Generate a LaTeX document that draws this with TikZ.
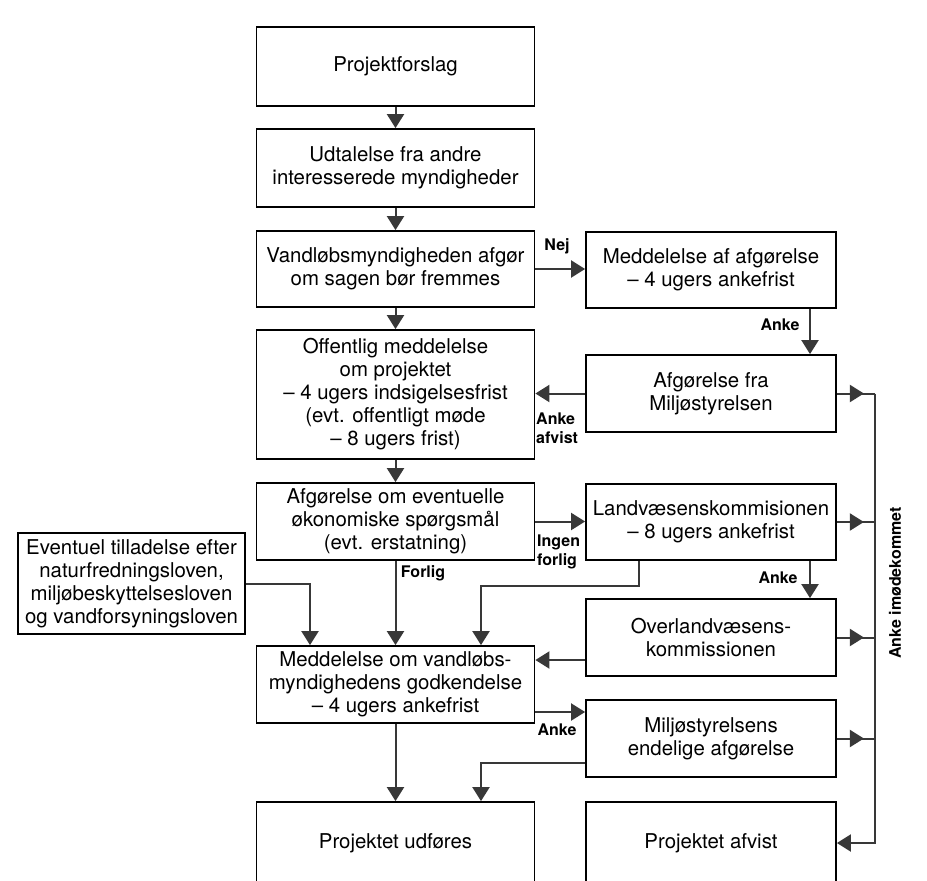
\documentclass[tikz,border=0pt]{standalone}
\usepackage{fontspec}
\setmainfont{TeX Gyre Heros}
\usetikzlibrary{arrows.meta}
\newcommand\boxfont{\fontsize{20.4}{23}\selectfont}
\newcommand\labfont{\fontsize{16}{19.5}\selectfont\bfseries}
\tikzset{
  box/.style={draw=black, line width=1.8pt, fill=white, align=center, inner sep=0pt, font=\boxfont},
  lbox/.style={box, minimum width=278pt},
  rbox/.style={box, minimum width=250pt},
  conn/.style={draw=black!78, line width=2pt},
  arr/.style={conn, -{Triangle[width=17pt,length=14pt]}},
  lab/.style={font=\labfont, inner sep=0pt, align=left},
}
\begin{document}
\begin{tikzpicture}[x=1pt,y=-1pt]
\useasboundingbox[fill=white] (0,0) rectangle (927,881);

% left column
\node[lbox, minimum height=79pt] (P1) at (395.5,66.5) {Projektforslag};
\node[lbox, minimum height=78pt] (P2) at (395.5,168) {Udtalelse fra andre\\interesserede myndigheder};
\node[lbox, minimum height=76pt] (P3) at (395.5,269) {Vandløbsmyndigheden afgør\\om sagen bør fremmes};
\node[lbox, minimum height=129pt] (P4) at (395.5,394.5) {Offentlig meddelelse\\om projektet\\– 4 ugers indsigelsesfrist\\(evt. offentligt møde\\– 8 ugers frist)};
\node[lbox, minimum height=77pt] (P5) at (395.5,521.5) {Afgørelse om eventuelle\\økonomiske spørgsmål\\(evt. erstatning)};
\node[lbox, minimum height=77pt] (P6) at (395.5,684.5) {Meddelelse om vandløbs-\\myndighedens godkendelse\\– 4 ugers ankefrist};
\node[lbox, minimum height=82pt] (P7) at (395.5,843) {Projektet udføres};

% right column
\node[rbox, minimum height=76pt] (M1) at (711,270) {Meddelelse af afgørelse\\– 4 ugers ankefrist};
\node[rbox, minimum height=77pt] (M2) at (711,393.5) {Afgørelse fra\\Miljøstyrelsen};
\node[rbox, minimum height=76pt] (M3) at (711,522) {Landvæsenskommisionen\\– 8 ugers ankefrist};
\node[rbox, minimum height=77pt] (M4) at (711,637.5) {Overlandvæsens-\\kommissionen};
\node[rbox, minimum height=77pt] (M5) at (711,738.5) {Miljøstyrelsens\\endelige afgørelse};
\node[rbox, minimum height=82pt] (M6) at (711,843) {Projektet afvist};

% side box
\node[box, minimum width=227pt, minimum height=101pt] (E) at (131.5,583.5) {Eventuel tilladelse efter\\naturfredningsloven,\\miljøbeskyttelsesloven\\og vandforsyningsloven};

% helper coordinates
\coordinate (bus) at (875,0);
\coordinate (xa) at (810,0);
\coordinate (k1) at (639,586);
\coordinate (k2) at (481,586);
\coordinate (xe) at (310,0);
\coordinate (y1) at (0,660);
\coordinate (y2) at (0,712);
\coordinate (y3) at (0,763);

% main spine
\draw[arr] (P1.south) -- (P2.north);
\draw[arr] (P2.south) -- (P3.north);
\draw[arr] (P3.south) -- (P4.north);
\draw[arr] (P4.south) -- (P5.north);
\draw[arr] (P5.south) -- (P6.north);
\draw[arr] (P6.south) -- (P7.north);

% side connections
\draw[arr] (P3.east) -- (P3.east -| M1.west);
\draw[arr] (M1.south -| xa) -- (M2.north -| xa);
\draw[arr] (M2.west) -- (M2.west -| P4.east);
\draw[arr] (P5.east) -- (P5.east -| M3.west);
\draw[arr] (M3.south -| xa) -- (M4.north -| xa);
\draw[arr] (M3.south -| k1) -- (k1) -- (k2) -- (P6.north -| k2);
\draw[arr] (E.east) -| (P6.north -| xe);
\draw[arr] (M4.west |- y1) -- (P6.east |- y1);
\draw[arr] (P6.east |- y2) -- (M5.west |- y2);
\draw[arr] (M5.west |- y3) -| (P7.north -| k2);

% bus on the right
\foreach \n in {M2,M3,M4,M5} {
  \draw[conn] (\n.east) -- (\n.east -| bus);
  \draw[arr] (\n.east) -- ++(27,0);
}
\draw[arr] (M2.east -| bus) -- (bus |- M6.east) -- (M6.east);

% labels
\node[lab] (lnej) at (557,246) {Nej};
\node[lab] (lanke1) at (780,325) {Anke};
\node[lab, anchor=west] (lafv) at (536,428) {Anke\\afvist};
\node[lab, anchor=west] (ling) at (537,552) {Ingen\\forlig};
\node[lab] (lforlig) at (423,573) {Forlig};
\node[lab] (lanke2) at (778,578) {Anke};
\node[lab] (lanke3) at (557,730) {Anke};
\node[lab, rotate=90] (limod) at (895,583) {Anke imødekommet};
\end{tikzpicture}
\end{document}
